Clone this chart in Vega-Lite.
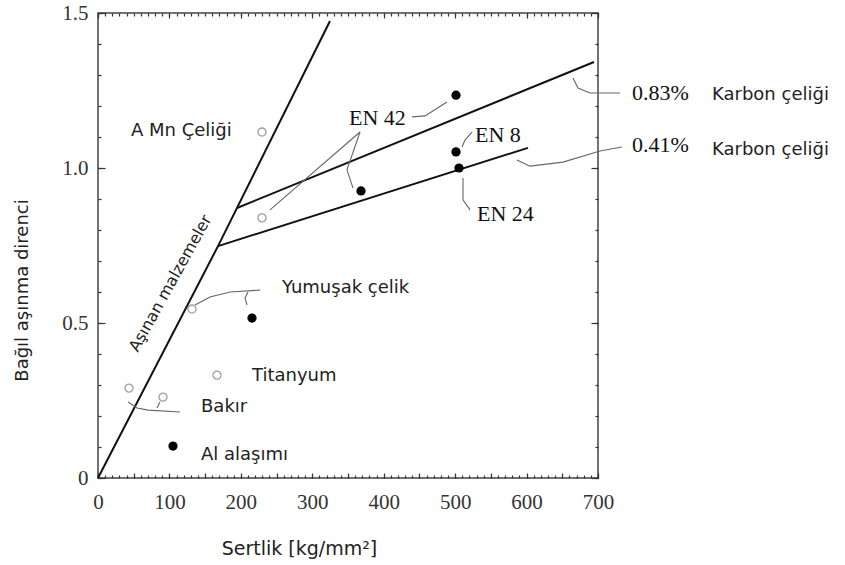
{
  "$schema": "https://vega.github.io/schema/vega-lite/v6.json",
  "width": 500,
  "height": 465,
  "autosize": {"type": "none"},
  "padding": {"left": 98, "top": 13, "right": 247, "bottom": 87},
  "background": "white",
  "config": {
    "view": {"stroke": "#444", "strokeWidth": 1.5},
    "axis": {"grid": false, "domain": false, "tickColor": "#333", "tickWidth": 1.2, "labelFlush": false}
  },
  "datasets": {
    "main": [
      {"g": "a", "x": 0, "y": 0}, {"g": "a", "x": 168, "y": 0.748}, {"g": "a", "x": 324.8, "y": 1.474},
      {"g": "b", "x": 194.6, "y": 0.871}, {"g": "b", "x": 694.4, "y": 1.342},
      {"g": "c", "x": 168, "y": 0.748}, {"g": "c", "x": 602, "y": 1.065}
    ],
    "leaders": [
      {"g": "l1", "i": 1, "x": 665, "y": 1.29}, {"g": "l1", "i": 2, "x": 672, "y": 1.258}, {"g": "l1", "i": 3, "x": 688.8, "y": 1.242}, {"g": "l1", "i": 4, "x": 730.8, "y": 1.242},
      {"g": "l2", "i": 1, "x": 586.6, "y": 1.026}, {"g": "l2", "i": 2, "x": 604.8, "y": 1.006}, {"g": "l2", "i": 3, "x": 651, "y": 1.019}, {"g": "l2", "i": 4, "x": 702.8, "y": 1.055}, {"g": "l2", "i": 5, "x": 733.6, "y": 1.068},
      {"g": "e1", "i": 1, "x": 366.8, "y": 1.116}, {"g": "e1", "i": 2, "x": 240.8, "y": 0.865},
      {"g": "e2", "i": 1, "x": 366.8, "y": 1.116}, {"g": "e2", "i": 2, "x": 348.6, "y": 0.994}, {"g": "e2", "i": 3, "x": 357, "y": 0.935},
      {"g": "e3", "i": 1, "x": 439.6, "y": 1.165}, {"g": "e3", "i": 2, "x": 457.8, "y": 1.168}, {"g": "e3", "i": 3, "x": 488.6, "y": 1.213},
      {"g": "e8", "i": 1, "x": 523.6, "y": 1.116}, {"g": "e8", "i": 2, "x": 513.8, "y": 1.09}, {"g": "e8", "i": 3, "x": 509.6, "y": 1.068},
      {"g": "e24", "i": 1, "x": 511, "y": 0.968}, {"g": "e24", "i": 2, "x": 511, "y": 0.897}, {"g": "e24", "i": 3, "x": 520.8, "y": 0.865},
      {"g": "y1", "i": 1, "x": 135.8, "y": 0.558}, {"g": "y1", "i": 2, "x": 156.8, "y": 0.584}, {"g": "y1", "i": 3, "x": 184.8, "y": 0.6}, {"g": "y1", "i": 4, "x": 226.8, "y": 0.606},
      {"g": "y2", "i": 1, "x": 210, "y": 0.6}, {"g": "y2", "i": 2, "x": 205.8, "y": 0.581}, {"g": "y2", "i": 3, "x": 208.6, "y": 0.558},
      {"g": "b1", "i": 1, "x": 42, "y": 0.245}, {"g": "b1", "i": 2, "x": 54.6, "y": 0.226}, {"g": "b1", "i": 3, "x": 70, "y": 0.219}, {"g": "b1", "i": 4, "x": 114.8, "y": 0.213},
      {"g": "b2", "i": 1, "x": 86.8, "y": 0.245}, {"g": "b2", "i": 2, "x": 82.6, "y": 0.226}
    ],
    "open": [
      {"x": 229.6, "y": 1.116}, {"x": 229.6, "y": 0.839}, {"x": 131.6, "y": 0.545},
      {"x": 166.6, "y": 0.332}, {"x": 43.4, "y": 0.29}, {"x": 91, "y": 0.261}
    ],
    "filled": [
      {"x": 105, "y": 0.103}, {"x": 215.6, "y": 0.516}, {"x": 368.2, "y": 0.926},
      {"x": 501.2, "y": 1.235}, {"x": 501.2, "y": 1.052}, {"x": 505.4, "y": 1.0}
    ],
    "serif": [
      {"x": 351.4, "y": 1.161, "t": "EN 42"},
      {"x": 527.8, "y": 1.106, "t": "EN 8"},
      {"x": 530.6, "y": 0.853, "t": "EN 24"},
      {"x": 747.6, "y": 1.242, "t": "0.83%"},
      {"x": 747.6, "y": 1.074, "t": "0.41%"}
    ],
    "sans": [
      {"x": 46.2, "y": 1.119, "t": "A Mn Çeliği"},
      {"x": 257.6, "y": 0.613, "t": "Yumuşak çelik"},
      {"x": 215.6, "y": 0.329, "t": "Titanyum"},
      {"x": 144.2, "y": 0.229, "t": "Bakır"},
      {"x": 144.2, "y": 0.074, "t": "Al alaşımı"},
      {"x": 859.6, "y": 1.235, "t": "Karbon çeliği"},
      {"x": 859.6, "y": 1.058, "t": "Karbon çeliği"}
    ],
    "rot": [
      {"x": 101.5, "y": 0.628, "t": "Aşınan malzemeler"}
    ]
  },
  "resolve": {"axis": {"x": "independent", "y": "independent"}},
  "layer": [
    {
      "data": {"name": "main"},
      "mark": {"type": "line", "color": "#111", "strokeWidth": 2},
      "encoding": {
        "x": {"field": "x", "type": "quantitative", "scale": {"domain": [0, 700], "nice": false, "zero": false},
          "axis": {"orient": "bottom", "values": [0, 100, 200, 300, 400, 500, 600, 700], "ticks": false, "tickSize": 0,
            "labelPadding": 24, "labelBaseline": "middle", "labelFont": "Liberation Serif", "labelFontSize": 21, "labelColor": "#333",
            "title": "Sertlik [kg/mm²]", "titleFont": "DejaVu Sans", "titleFontSize": 19, "titleFontWeight": "normal", "titleColor": "#222",
            "titleX": 201, "titleY": 70, "titleAlign": "center", "titleBaseline": "middle"}},
        "y": {"field": "y", "type": "quantitative", "scale": {"domain": [0, 1.5], "nice": false, "zero": false},
          "axis": {"orient": "left", "values": [0, 0.5, 1, 1.5], "ticks": false, "tickSize": 0,
            "labelExpr": "datum.value == 0 ? '0' : format(datum.value, '.1f')",
            "labelPadding": 10, "labelFont": "Liberation Serif", "labelFontSize": 21, "labelColor": "#333",
            "title": "Bağıl aşınma direnci", "titleFont": "DejaVu Sans", "titleFontSize": 18, "titleFontWeight": "normal", "titleColor": "#222",
            "titleX": -76, "titleY": 277, "titleAngle": -90, "titleAlign": "center", "titleBaseline": "middle"}},
        "detail": {"field": "g"}
      }
    },
    {
      "data": {"name": "leaders"},
      "mark": {"type": "line", "color": "#666", "strokeWidth": 1.1},
      "encoding": {
        "x": {"field": "x", "type": "quantitative", "scale": {"domain": [0, 700], "nice": false, "zero": false},
          "axis": {"orient": "top", "offset": -465, "tickCount": 70, "tickSize": 3, "labels": false, "title": null}},
        "y": {"field": "y", "type": "quantitative", "scale": {"domain": [0, 1.5], "nice": false, "zero": false},
          "axis": {"orient": "right", "offset": -500, "tickCount": 15, "tickSize": 3, "labels": false, "title": null}},
        "detail": {"field": "g"},
        "order": {"field": "i"}
      }
    },
    {
      "data": {"name": "open"},
      "mark": {"type": "point", "shape": "circle", "filled": false, "stroke": "#777", "strokeWidth": 1.3, "size": 65},
      "encoding": {
        "x": {"field": "x", "type": "quantitative", "scale": {"domain": [0, 700], "nice": false, "zero": false},
          "axis": {"orient": "top", "offset": -465, "values": [0, 50, 100, 150, 200, 250, 300, 350, 400, 450, 500, 550, 600, 650, 700], "tickSize": 5, "labels": false, "title": null}},
        "y": {"field": "y", "type": "quantitative", "scale": {"domain": [0, 1.5], "nice": false, "zero": false},
          "axis": {"orient": "right", "offset": -500, "values": [0, 0.5, 1, 1.5], "tickSize": 7, "labels": false, "title": null}}
      }
    },
    {
      "data": {"name": "filled"},
      "mark": {"type": "point", "shape": "circle", "filled": true, "color": "#000", "opacity": 1, "size": 85},
      "encoding": {
        "x": {"field": "x", "type": "quantitative", "scale": {"domain": [0, 700], "nice": false, "zero": false},
          "axis": {"orient": "bottom", "offset": -465, "tickCount": 70, "tickSize": 3, "labels": false, "title": null}},
        "y": {"field": "y", "type": "quantitative", "scale": {"domain": [0, 1.5], "nice": false, "zero": false},
          "axis": {"orient": "left", "offset": -500, "tickCount": 15, "tickSize": 3, "labels": false, "title": null}}
      }
    },
    {
      "data": {"name": "serif"},
      "mark": {"type": "text", "align": "left", "baseline": "middle", "font": "Liberation Serif", "fontSize": 22, "color": "#111"},
      "encoding": {
        "x": {"field": "x", "type": "quantitative", "scale": {"domain": [0, 700], "nice": false, "zero": false},
          "axis": {"orient": "bottom", "offset": -465, "values": [0, 100, 200, 300, 400, 500, 600, 700], "tickSize": 5, "labels": false, "title": null}},
        "y": {"field": "y", "type": "quantitative", "scale": {"domain": [0, 1.5], "nice": false, "zero": false},
          "axis": {"orient": "left", "offset": -500, "values": [0, 0.5, 1, 1.5], "tickSize": 7, "labels": false, "title": null}},
        "text": {"field": "t"}
      }
    },
    {
      "data": {"name": "sans"},
      "mark": {"type": "text", "align": "left", "baseline": "middle", "font": "DejaVu Sans", "fontSize": 18, "color": "#222"},
      "encoding": {
        "x": {"field": "x", "type": "quantitative", "scale": {"domain": [0, 700], "nice": false, "zero": false}, "axis": null},
        "y": {"field": "y", "type": "quantitative", "scale": {"domain": [0, 1.5], "nice": false, "zero": false}, "axis": null},
        "text": {"field": "t"}
      }
    },
    {
      "data": {"name": "rot"},
      "mark": {"type": "text", "align": "center", "baseline": "middle", "font": "DejaVu Sans", "fontSize": 16, "color": "#222", "angle": -61},
      "encoding": {
        "x": {"field": "x", "type": "quantitative", "scale": {"domain": [0, 700], "nice": false, "zero": false}, "axis": null},
        "y": {"field": "y", "type": "quantitative", "scale": {"domain": [0, 1.5], "nice": false, "zero": false}, "axis": null},
        "text": {"field": "t"}
      }
    }
  ]
}
